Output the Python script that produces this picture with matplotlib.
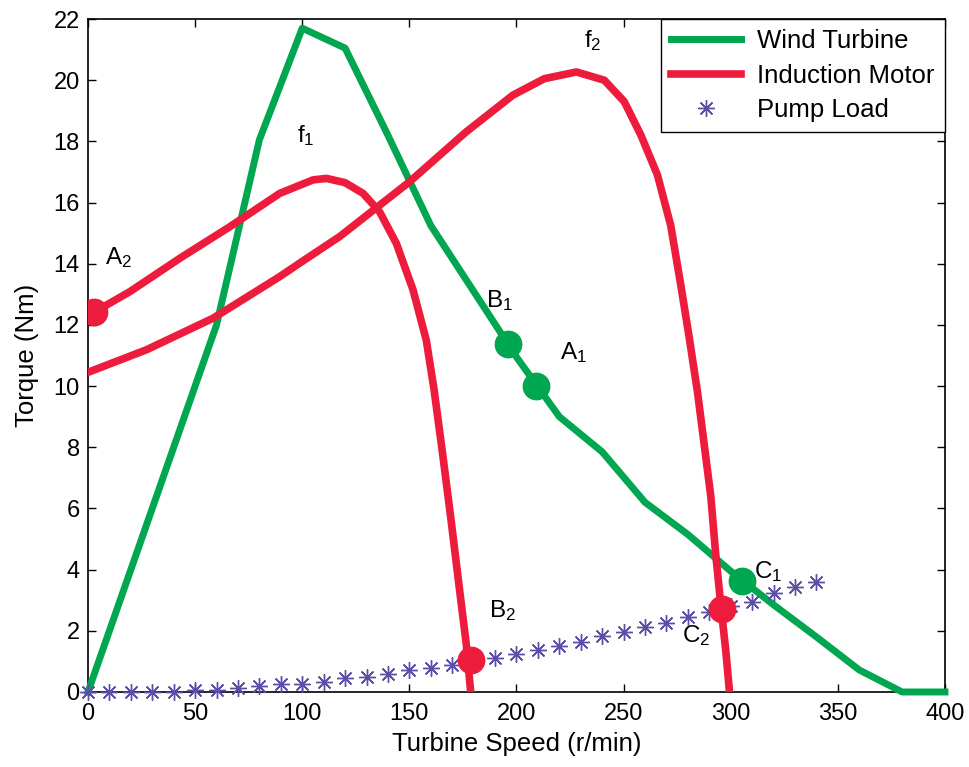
import matplotlib
matplotlib.use('Agg')
import matplotlib.pyplot as plt

plt.rcParams['font.family'] = ['Liberation Sans', 'DejaVu Sans']
plt.rcParams['mathtext.fontset'] = 'custom'
plt.rcParams['mathtext.rm'] = 'Liberation Sans'
plt.rcParams['mathtext.it'] = 'Liberation Sans'

# wind turbine torque-speed characteristic
wt_speed = [0, 60, 80, 100, 120, 140, 160, 180, 200, 220, 240, 260, 280, 300, 320, 340, 360, 380, 400]
wt_torque = [0, 12.0, 18.05, 21.7, 21.05, 18.2, 15.25, 13.1, 10.95, 9.0, 7.85, 6.2, 5.15, 3.95, 2.85, 1.8, 0.72, 0, 0]

# induction motor curves at the two supply frequencies
f1_speed = [0, 19.6, 42.9, 66.2, 89.5, 105, 111.3, 120, 128.4, 136.1, 143.9, 151.7, 157.9,
            161.5, 165.5, 169.5, 173.5, 176.5, 178.5]
f1_torque = [12.3, 13.09, 14.18, 15.21, 16.3, 16.74, 16.79, 16.65, 16.3, 15.7, 14.67, 13.15, 11.5,
             9.9, 7.8, 5.6, 3.3, 1.6, 0.1]

f2_speed = [0, 27.4, 58.4, 89.5, 98.8, 117.5, 150.1, 176.5, 198.3, 213, 228, 241, 250.3,
            258.1, 265.8, 272, 276.7, 280.6, 284.5, 287.6, 290.7, 293, 295.5, 297.7, 299.3]
f2_torque = [10.45, 11.19, 12.22, 13.58, 14.02, 14.89, 16.68, 18.31, 19.51, 20.05, 20.27, 20.0, 19.3,
             18.2, 16.9, 15.25, 13.3, 11.6, 9.8, 8.1, 6.4, 4.5, 2.75, 1.35, 0.1]

# pump load
pump_speed = list(range(0, 341, 10))
pump_torque = [0, 0, 0, 0, 0, 0.08, 0.08, 0.14, 0.2, 0.26, 0.26, 0.33, 0.46, 0.5, 0.58, 0.71, 0.78,
               0.89, 1.02, 1.1, 1.24, 1.37, 1.49, 1.64, 1.82, 1.95, 2.14, 2.27, 2.46, 2.63, 2.8,
               2.95, 3.23, 3.44, 3.61]

# operating points
green_pts_x = [196, 209, 305.2]
green_pts_y = [11.38, 10.0, 3.63]
red_pts_x = [2.8, 178.9, 295.8]
red_pts_y = [12.41, 1.05, 2.7]

labels = [('A$_2$', 7.9, 14.2), ('f$_1$', 97.4, 18.2), ('f$_2$', 231.7, 21.3),
          ('B$_1$', 186, 12.8), ('A$_1$', 220.5, 11.1), ('C$_1$', 311, 3.95),
          ('C$_2$', 277.4, 1.85), ('B$_2$', 187, 2.65)]

GREEN = '#00A650'
RED = '#EE1C3C'
STAR = '#5B4FA8'

fig = plt.figure(figsize=(9.69, 7.67), dpi=100)
ax = fig.add_axes([0.0908, 0.0978, 0.8844, 0.8774])

ax.plot(wt_speed, wt_torque, color=GREEN, lw=5, label='Wind Turbine', clip_on=False, zorder=3)
ax.plot(f1_speed, f1_torque, color=RED, lw=5.5, label='Induction Motor', zorder=3)
ax.plot(f2_speed, f2_torque, color=RED, lw=5.5, zorder=3)
ax.plot(pump_speed, pump_torque, ls='none', marker=(8, 2, 0), ms=12, mew=1.0,
        color=STAR, label='Pump Load', clip_on=False, zorder=4)

ax.plot(green_pts_x, green_pts_y, 'o', color=GREEN, ms=19, zorder=5)
ax.plot(red_pts_x, red_pts_y, 'o', color=RED, ms=19, zorder=5)

for txt, x, y in labels:
    ax.text(x, y, txt, fontsize=17.5, ha='left', va='center')

ax.set_xlim(0, 400)
ax.set_ylim(0, 22)
ax.set_xticks(range(0, 401, 50))
ax.set_yticks(range(0, 23, 2))
ax.tick_params(direction='in', length=6, width=1, top=True, right=True, labelsize=17)
ax.tick_params(axis='x', pad=8)
ax.tick_params(axis='y', pad=6)
for s in ax.spines.values():
    s.set_linewidth(1.2)

ax.set_xlabel('Turbine Speed (r/min)', fontsize=18.5, labelpad=5)
ax.set_ylabel('Torque (Nm)', fontsize=18.5, labelpad=10)

leg = ax.legend(loc='upper right', fontsize=18.5, fancybox=False, framealpha=1,
                edgecolor='black', handlelength=2.7, borderaxespad=0, borderpad=0.4,
                labelspacing=0.4, handletextpad=0.65)
leg.get_frame().set_linewidth(1.0)

fig.savefig('out.png', dpi=100, facecolor='white')
